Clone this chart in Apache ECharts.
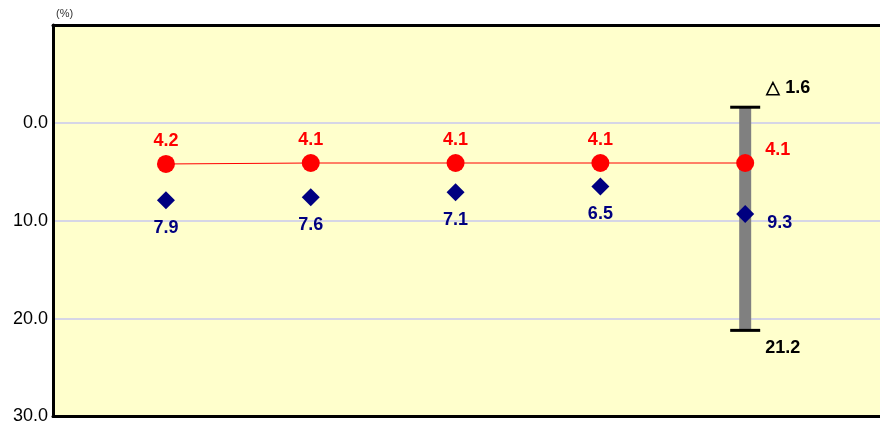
<!DOCTYPE html>
<html>
<head>
<meta charset="utf-8">
<script src="https://cdn.jsdelivr.net/npm/echarts@6/dist/echarts.min.js"></script>
<style>html,body{margin:0;padding:0;background:#fff;}#c{width:880px;height:421px;}</style>
</head>
<body>
<div id="c"></div>
<script>
// Data
var positions = [0, 1, 2, 3, 4];
var redValues = [4.2, 4.1, 4.1, 4.1, 4.1];
var blueValues = [7.9, 7.6, 7.1, 6.5, 9.3];
var rangeHigh = [-1.6];   // shown as △ 1.6
var rangeLow = [21.2];
var rangeIndex = [4];
var yTicks = [-10, 0, 10, 20, 30];

function fmt(v) {
  return v < 0 ? '\u25B3 ' + Math.abs(v).toFixed(1) : v.toFixed(1);
}

var chart = echarts.init(document.getElementById('c'));
var labelFont = 'Liberation Sans, Arial, sans-serif';
var last = positions.length - 1;

var redData = positions.map(function (x, i) {
  var item = { value: [x, redValues[i]] };
  if (i === last) {
    item.label = { position: 'right', distance: 11, offset: [0, -13] };
  }
  return item;
});
var blueData = positions.map(function (x, i) {
  var item = { value: [x, blueValues[i]] };
  if (i === last) {
    item.label = { position: 'right', distance: 13, offset: [0, 9] };
  }
  return item;
});
var rangeData = rangeIndex.map(function (x, i) { return [x, rangeHigh[i], rangeLow[i]]; });

function blackLine() { return { show: true, onZero: false, lineStyle: { color: '#000', width: 3 } }; }

chart.setOption({
  animation: false,
  backgroundColor: '#ffffff',
  grid: {
    left: 53, right: -10, top: 25, bottom: 4.5,
    outerBoundsMode: 'none', containLabel: false,
    show: true, backgroundColor: '#ffffcc', borderColor: '#000', borderWidth: 0
  },
  graphic: [{
    type: 'text', left: 56, top: 8,
    style: { text: '(%)', font: '11px ' + labelFont, fill: '#333' }
  }],
  xAxis: [
    { type: 'value', min: -0.78, max: 5.0, position: 'bottom',
      axisLine: blackLine(), axisTick: { show: false }, axisLabel: { show: false }, splitLine: { show: false } },
    { type: 'value', min: -0.78, max: 5.0, position: 'top',
      axisLine: blackLine(), axisTick: { show: false }, axisLabel: { show: false }, splitLine: { show: false } }
  ],
  yAxis: {
    type: 'value', inverse: true, min: yTicks[0], max: yTicks[yTicks.length - 1], interval: 10,
    axisLine: blackLine(), axisTick: { show: false },
    axisLabel: {
      color: '#000', fontSize: 18, fontFamily: labelFont, margin: 5,
      formatter: function (v) { return v === yTicks[0] ? '' : v.toFixed(1); }
    },
    splitLine: { show: true, lineStyle: { color: '#d6d6e6', width: 2 } }
  },
  series: [
    {
      type: 'custom',
      data: rangeData,
      z: 1,
      renderItem: function (params, api) {
        var x = api.value(0);
        var top = api.coord([x, api.value(1)]);
        var bot = api.coord([x, api.value(2)]);
        var hi = api.value(1), lo = api.value(2);
        return {
          type: 'group',
          children: [
            { type: 'rect', shape: { x: top[0] - 6, y: top[1], width: 12, height: bot[1] - top[1] },
              style: { fill: '#808080' } },
            { type: 'line', shape: { x1: top[0] - 15, y1: top[1], x2: top[0] + 15, y2: top[1] },
              style: { stroke: '#000', lineWidth: 3 } },
            { type: 'line', shape: { x1: bot[0] - 15, y1: bot[1], x2: bot[0] + 15, y2: bot[1] },
              style: { stroke: '#000', lineWidth: 3 } },
            { type: 'text', x: top[0] + 21, y: top[1] - 19,
              style: { text: fmt(hi), font: 'bold 18px ' + labelFont, fill: '#000', verticalAlign: 'middle', align: 'left' } },
            { type: 'text', x: bot[0] + 20, y: bot[1] + 18,
              style: { text: fmt(lo), font: 'bold 18px ' + labelFont, fill: '#000', verticalAlign: 'middle', align: 'left' } }
          ]
        };
      }
    },
    {
      type: 'line',
      data: redData,
      z: 3,
      symbol: 'circle', symbolSize: 18,
      itemStyle: { color: '#ff0000', opacity: 1 },
      lineStyle: { color: '#ff0000', width: 1 },
      label: {
        show: true, position: 'top', distance: 5,
        color: '#ff0000', fontWeight: 'bold', fontSize: 18, fontFamily: labelFont,
        formatter: function (p) { return p.value[1].toFixed(1); }
      }
    },
    {
      type: 'scatter',
      data: blueData,
      z: 4,
      symbol: 'diamond', symbolSize: [18, 18],
      itemStyle: { color: '#000080', opacity: 1 },
      label: {
        show: true, position: 'bottom', distance: 10,
        color: '#000080', fontWeight: 'bold', fontSize: 18, fontFamily: labelFont,
        formatter: function (p) { return p.value[1].toFixed(1); }
      }
    }
  ]
});
</script>
</body>
</html>
